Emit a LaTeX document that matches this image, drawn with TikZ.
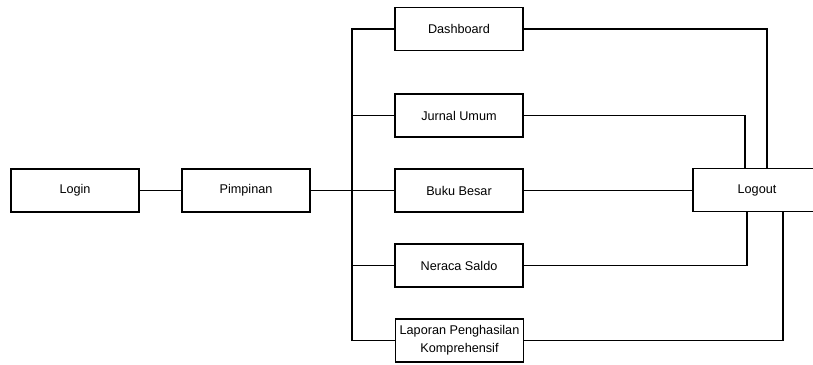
\documentclass[tikz,border=0pt]{standalone}
\usepackage{fontspec}
\setmainfont{Liberation Sans}
\begin{document}
\begin{tikzpicture}[x=0.75pt,y=-0.75pt,
  box/.style={draw, line width=1.1pt, minimum width=96pt, minimum height=32.25pt, inner sep=0pt,
    font=\fontsize{9.5}{13.5}\selectfont, align=center},
  conn/.style={line width=1.1pt}]
\useasboundingbox (0,0) rectangle (813,364);
\clip (0,0) rectangle (813,364);
\node[box] (login) at (75,190.5) {Login};
\node[box] (pimp) at (246,190.5) {Pimpinan};
\node[box] (dash) at (459,29) {Dashboard};
\node[box] (jurnal) at (459,115.5) {Jurnal Umum};
\node[box] (buku) at (459,190.5) {Buku Besar};
\node[box] (neraca) at (459,265.5) {Neraca Saldo};
\node[box] (lap) at (459.5,340.5) {Laporan Penghasilan\\Komprehensif};
\node[box] (logout) at (757,190) {Logout};
\coordinate (bus) at (352,340.5);
\draw[conn] (login.east) -- (pimp.west);
\draw[conn] (pimp.east) -- (buku.west);
\draw[conn] (dash.west) -| (bus) -- (lap.west);
\draw[conn] (jurnal.west) -- (jurnal.west -| bus);
\draw[conn] (neraca.west) -- (neraca.west -| bus);
\draw[conn] (dash.east) -| ([xshift=7.5pt]logout.north);
\draw[conn] (jurnal.east) -| ([xshift=-9pt]logout.north);
\draw[conn] (buku.east) -- (logout.west |- buku.east);
\draw[conn] (neraca.east) -| ([xshift=-7.5pt]logout.south);
\draw[conn] (lap.east) -| ([xshift=19.5pt]logout.south);
\end{tikzpicture}
\end{document}
